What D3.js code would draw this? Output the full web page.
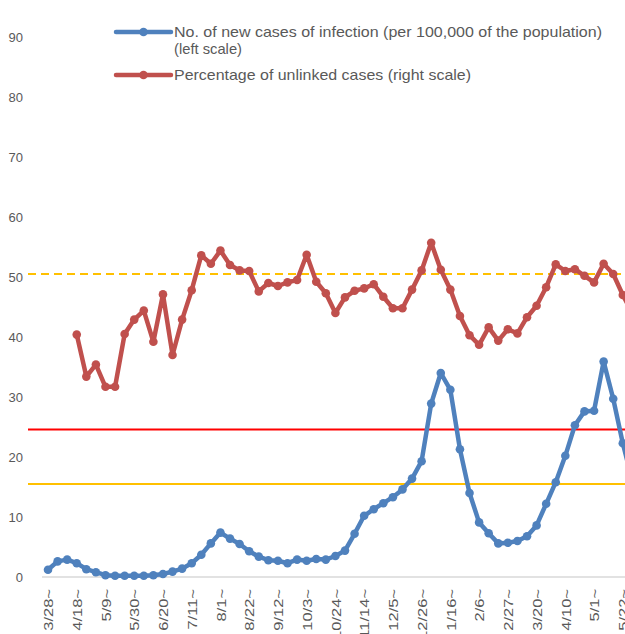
<!DOCTYPE html>
<html><head><meta charset="utf-8">
<script src="https://cdn.jsdelivr.net/npm/d3@7"></script>
<style>body{margin:0;background:#fff;overflow:hidden}svg{display:block}</style>
</head><body>
<svg id="c" width="625" height="634"></svg>
<script>
const weeks = ["3/28","4/4","4/11","4/18","4/25","5/2","5/9","5/16","5/23","5/30","6/6","6/13","6/20","6/27","7/4","7/11","7/18","7/25","8/1","8/8","8/15","8/22","8/29","9/5","9/12","9/19","9/26","10/3","10/10","10/17","10/24","10/31","11/7","11/14","11/21","11/28","12/5","12/12","12/19","12/26","1/2","1/9","1/16","1/23","1/30","2/6","2/13","2/20","2/27","3/6","3/13","3/20","3/27","4/3","4/10","4/17","4/24","5/1","5/8","5/15","5/22","5/29"];
const newCases = [1.2,2.6,2.9,2.3,1.3,0.8,0.3,0.2,0.2,0.2,0.2,0.3,0.5,0.9,1.4,2.3,3.7,5.6,7.4,6.4,5.5,4.3,3.4,2.8,2.7,2.3,2.9,2.7,3.0,2.9,3.5,4.4,7.2,10.2,11.3,12.3,13.3,14.6,16.4,19.3,28.9,34.0,31.2,21.3,14.0,9.1,7.3,5.6,5.7,6.0,6.8,8.6,12.2,15.8,20.2,25.3,27.6,27.7,35.9,29.7,22.3,16.0];
const unlinked = [null,null,null,40.4,33.4,35.4,31.7,31.7,40.5,42.9,44.4,39.2,47.1,37.0,42.9,47.8,53.6,52.2,54.4,52.0,51.1,51.0,47.6,49.0,48.5,49.1,49.5,53.7,49.2,47.3,44.0,46.6,47.7,48.1,48.8,46.7,44.8,44.8,47.9,51.1,55.7,51.2,47.9,43.5,40.3,38.7,41.6,39.4,41.3,40.6,43.3,45.2,48.3,52.1,51.0,51.3,50.2,49.1,52.2,50.5,47.0,44.0];
const tickLabels = ["3/28","4/18","5/9","5/30","6/20","7/11","8/1","8/22","9/12","10/3","10/24","11/14","12/5","12/26","1/16","2/6","2/27","3/20","4/10","5/1","5/22"];
const yTicks = [0,10,20,30,40,50,60,70,80,90];
const refLines = [{v:24.6,color:"#FF0000",dash:null,w:2},{v:15.5,color:"#FFC000",dash:null,w:2},{v:50.5,color:"#FFC000",dash:"8,5",w:2.2}];
const legendItems = [{lines:["No. of new cases of infection (per 100,000 of the population)","(left scale)"],color:"#4F81BD"},{lines:["Percentage of unlinked cases (right scale)"],color:"#C0504D"}];

const svg = d3.select("#c");
const x = d3.scaleLinear().domain([0,60]).range([48,622.8]);
const y = d3.scaleLinear().domain([0,90]).range([577,37]);
const y2 = d3.scaleLinear().domain([0,90]).range([577,37]);
const font = "'Liberation Sans', Arial, sans-serif";
const txt = "#595959";

// y axis labels
const yAxis = d3.axisLeft(y).tickValues(yTicks).tickSize(0).tickPadding(0);
const gy = svg.append("g").attr("transform","translate(23,0)").call(yAxis);
gy.select(".domain").remove();
gy.selectAll("text").attr("font-family",font).attr("font-size",13).attr("fill",txt);

// zero line
svg.append("line").attr("x1",42).attr("x2",625).attr("y1",y(0)).attr("y2",y(0)).attr("stroke","#D9D9D9").attr("stroke-width",1.5);

// x axis labels
const xAxis = d3.axisBottom(x).tickValues(tickLabels.map(t=>weeks.indexOf(t))).tickFormat(i=>weeks[i]+"~").tickSize(0);
const gx = svg.append("g").attr("transform",`translate(0,${y(0)})`).call(xAxis);
gx.select(".domain").remove();
gx.selectAll("text").attr("font-family",font).attr("font-size",13.5).attr("fill",txt)
  .attr("text-anchor","end").attr("transform","rotate(-90)").attr("x",-12).attr("y",0).attr("dy","0.35em")
  .each(function(){ const L=this.getComputedTextLength(); d3.select(this).attr("textLength",L*1.22).attr("lengthAdjust","spacingAndGlyphs"); });

// reference lines
svg.selectAll(".ref").data(refLines).join("line")
  .attr("x1",28).attr("x2",625).attr("y1",d=>y2(d.v)).attr("y2",d=>y2(d.v))
  .attr("stroke",d=>d.color).attr("stroke-width",d=>d.w).attr("stroke-dasharray",d=>d.dash);

function series(vals, ys, color){
  const pts = vals.map((v,i)=>({i,v})).filter(d=>d.v!=null);
  svg.append("path").datum(pts).attr("fill","none").attr("stroke",color).attr("stroke-width",4.5)
    .attr("stroke-linejoin","round").attr("d",d3.line().x(d=>x(d.i)).y(d=>ys(d.v)));
  svg.append("g").selectAll("circle").data(pts).join("circle")
    .attr("cx",d=>x(d.i)).attr("cy",d=>ys(d.v)).attr("r",4.3).attr("fill",color);
}
series(unlinked, y2, "#C0504D");
series(newCases, y, "#4F81BD");

// legend
const legY = [32,75];
const legWidths = [[428,68],[297]];
legendItems.forEach((it,k)=>{
  const g = svg.append("g");
  g.append("line").attr("x1",116).attr("x2",171).attr("y1",legY[k]).attr("y2",legY[k]).attr("stroke",it.color).attr("stroke-width",4.5).attr("stroke-linecap","round");
  g.append("circle").attr("cx",143.5).attr("cy",legY[k]).attr("r",4.3).attr("fill",it.color);
  it.lines.forEach((l,j)=>{
    g.append("text").attr("x",174).attr("y",legY[k]+j*17).attr("dy","0.35em").attr("font-family",font).attr("font-size",15).attr("fill",txt)
      .attr("textLength",legWidths[k][j]).attr("lengthAdjust","spacingAndGlyphs").text(l);
  });
});
</script>
</body></html>
